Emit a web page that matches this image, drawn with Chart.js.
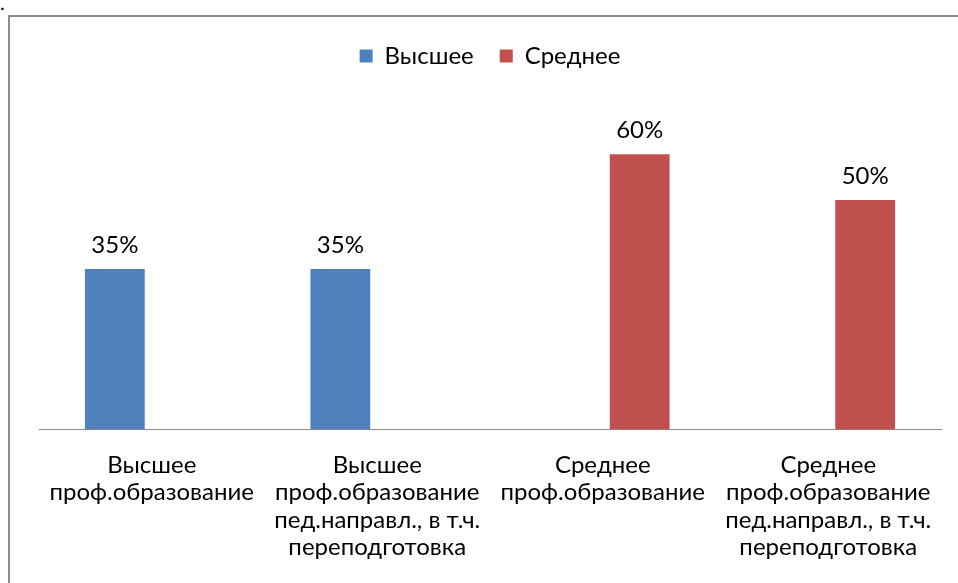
<!DOCTYPE html>
<html><head><meta charset="utf-8">
<script src="https://cdn.jsdelivr.net/npm/chart.js@4/dist/chart.umd.min.js"></script>
<style>
html,body{margin:0;padding:0;background:#fff;width:958px;height:583px;overflow:hidden;}
#dot{position:absolute;left:0px;top:-10px;font:20px Lato, sans-serif;color:#000;}
#frame{position:absolute;left:8px;top:15px;width:980px;height:700px;border-left:2px solid #8c8c8c;border-top:2px solid #8c8c8c;}
#wrap{position:absolute;left:0;top:0;width:958px;height:583px;}
</style></head>
<body>
<div id="dot">.</div>
<div id="frame"></div>
<div id="wrap"><canvas id="c" width="958" height="583"></canvas></div>
<script>
const categories = [
  ["Высшее","проф.образование"],
  ["Высшее","проф.образование","пед.направл., в т.ч.","переподготовка"],
  ["Среднее","проф.образование"],
  ["Среднее","проф.образование","пед.направл., в т.ч.","переподготовка"]
];
const seriesNames = ["Высшее","Среднее"];
const higherValues = [0.35, 0.35, null, null];
const secondaryValues = [null, null, 0.60, 0.50];

const FONT = "Lato, 'Open Sans', sans-serif";

const valueLabels = {
  id: 'valueLabels',
  afterDatasetsDraw(chart) {
    const ctx = chart.ctx;
    ctx.save();
    ctx.font = "24px " + FONT;
    ctx.fillStyle = "#000";
    ctx.textAlign = "center";
    ctx.textBaseline = "middle";
    chart.data.datasets.forEach((ds, i) => {
      const meta = chart.getDatasetMeta(i);
      meta.data.forEach((bar, j) => {
        const v = ds.data[j];
        if (v === null || v === undefined) return;
        ctx.fillText(Math.round(v * 100) + "%", bar.x, bar.y - 24);
      });
    });
    ctx.restore();
  }
};

new Chart(document.getElementById('c'), {
  type: 'bar',
  data: {
    labels: categories,
    datasets: [
      { label: seriesNames[0], data: higherValues, backgroundColor: '#4F81BD', borderWidth: 0, categoryPercentage: 0.655, barPercentage: 0.81 },
      { label: seriesNames[1], data: secondaryValues, backgroundColor: '#C0504D', borderWidth: 0, categoryPercentage: 0.655, barPercentage: 0.81 }
    ]
  },
  options: {
    responsive: false,
    animation: false,
    devicePixelRatio: 1,
    layout: { padding: { left: 39, right: 17, top: 18, bottom: 0 } },
    plugins: {
      legend: {
        display: true,
        position: 'top',
        labels: {
          font: { family: FONT, size: 24 },
          color: '#000',
          boxWidth: 13,
          boxHeight: 13,
          padding: 26
        }
      },
      tooltip: { enabled: false }
    },
    scales: {
      x: {
        grid: { display: false, drawTicks: false },
        border: { display: true, color: '#8c8c8c', width: 1 },
        ticks: {
          font: { family: FONT, size: 24, lineHeight: 1.14 },
          color: '#000',
          padding: 22,
          maxRotation: 0,
          autoSkip: false
        }
      },
      y: {
        display: false,
        min: 0,
        max: 0.766
      }
    }
  },
  plugins: [valueLabels]
});
</script>
</body></html>
